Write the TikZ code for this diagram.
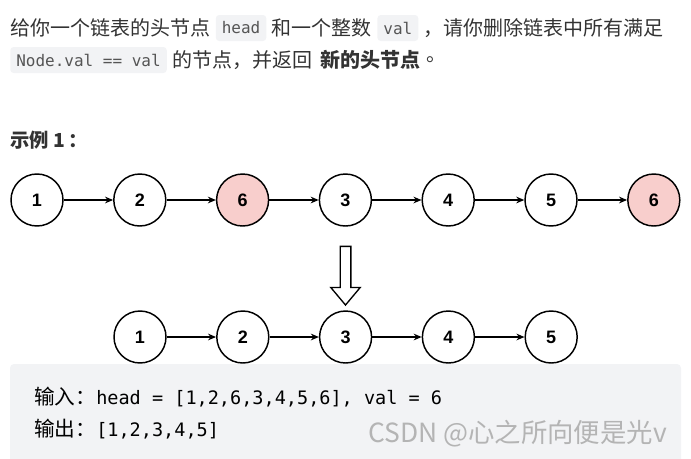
\documentclass[tikz,border=0pt]{standalone}
\usepackage{fontspec}
\setmainfont{Noto Sans CJK SC}
\setmonofont{DejaVu Sans Mono}
\newfontfamily\numfont{Liberation Sans}
\usetikzlibrary{arrows.meta,positioning,shapes.arrows}
\definecolor{ink}{HTML}{333333}
\definecolor{codebg}{HTML}{F2F3F5}
\definecolor{codefg}{HTML}{555555}
\definecolor{hit}{HTML}{F8CECC}
\definecolor{wm}{HTML}{B4B4B4}

\begin{document}
\begin{tikzpicture}[x=0.75pt,y=-0.75pt,
  node distance=37pt,>={Stealth[length=6pt,width=5pt]},
  txt/.style={inner sep=0pt,text=ink,font=\fontsize{15pt}{18pt}\selectfont},
  code/.style={rectangle,rounded corners=2.5pt,fill=codebg,text=codefg,inner xsep=4.5pt,minimum height=19.5pt,font=\ttfamily\fontsize{12pt}{14pt}\selectfont},
  nd/.style={circle,draw=black,line width=1.1pt,minimum size=39pt,inner sep=0pt,font=\numfont\bfseries\fontsize{13.5pt}{15pt}\selectfont},
  gone/.style={nd,fill=hit},
  edge/.style={->,line width=1.1pt},
  paneltext/.style={anchor=west,inner sep=0pt,text=black,font=\fontsize{15.5pt}{18pt}\selectfont}
]
  \useasboundingbox (0,0) rectangle (691,458);

  % Problem text
  \node[txt,anchor=west] (l1a) at (10,28) {给你一个链表的头节点};
  \node[code,right=3.75pt of l1a] (l1b) {head};
  \node[txt,right=3.75pt of l1b] (l1c) {和一个整数};
  \node[code,right=3.75pt of l1c] (l1d) {val};
  \node[txt,right=3.75pt of l1d] (l1e) {，请你删除链表中所有满足};
  \node[code,anchor=west] (l2a) at (10,60) {Node.val == val};
  \node[txt,right=3.75pt of l2a] (l2b) {的节点，并返回};
  \node[txt,right=6pt of l2b,font=\bfseries\fontsize{15pt}{18pt}\selectfont] (l2c) {新的头节点};
  \node[txt,right=4pt of l2c] (l2d) {。};
  \node[txt,anchor=west,font=\bfseries\fontsize{14.5pt}{17pt}\selectfont] (ex) at (10,140) {示例 1\,：};

  % Input list
  \node[nd] (a1) at (37,200) {1};
  \node[nd,right=of a1] (a2) {2};
  \node[gone,right=of a2] (a3) {6};
  \node[nd,right=of a3] (a4) {3};
  \node[nd,right=of a4] (a5) {4};
  \node[nd,right=of a5] (a6) {5};
  \node[gone,right=of a6] (a7) {6};
  \foreach \i/\j in {1/2,2/3,3/4,4/5,5/6,6/7}
    \draw[edge] (a\i) -- (a\j);

  % Hollow arrow
  \node[single arrow,draw,line width=1pt,rotate=-90,minimum height=44pt,inner sep=3.5pt,
        single arrow head extend=7pt,single arrow tip angle=80] (down) at (345.5,272.5) {};

  % Result list
  \node[nd] (b1) at (140,337) {1};
  \node[nd,right=of b1] (b2) {2};
  \node[nd,right=of b2] (b3) {3};
  \node[nd,right=of b3] (b4) {4};
  \node[nd,right=of b4] (b5) {5};
  \foreach \i/\j in {1/2,2/3,3/4,4/5}
    \draw[edge] (b\i) -- (b\j);

  % Example panel
  \fill[codebg,rounded corners=3pt] (10,364) rectangle (681,478);
  \node[paneltext] (inp) at (34,397) {输入：{\ttfamily\fontsize{13.9pt}{16pt}\selectfont head = [1,2,6,3,4,5,6], val = 6}};
  \node[paneltext] (res) at (34,429) {输出：{\ttfamily\fontsize{13.9pt}{16pt}\selectfont [1,2,3,4,5]}};
  \node[anchor=west,inner sep=0pt,text=wm,font=\fontsize{19.8pt}{22pt}\selectfont] (mark) at (368,434) {CSDN @心之所向便是光v};
\end{tikzpicture}
\end{document}
